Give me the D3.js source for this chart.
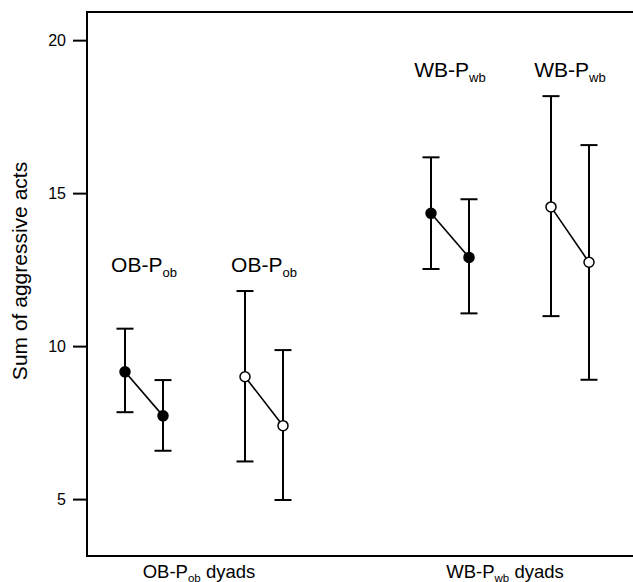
<!DOCTYPE html>
<html>
<head>
<meta charset="utf-8">
<script src="https://cdn.jsdelivr.net/npm/d3@7"></script>
<style>
  body { margin: 0; background: #fff; }
  text { font-family: "Liberation Sans", Arial, sans-serif; fill: #000; }
</style>
</head>
<body>
<svg id="chart" width="633" height="582"></svg>
<script>
// groups on the x axis and the pair labels drawn above each series
const groups = ["OB", "WB"]
const groupLabels = [["OB-P", "ob", " dyads"], ["WB-P", "wb", " dyads"]]
const seriesNames = ["filled", "open"]
const times = [1, 2]

// means and error bar ends, per group, per series, per time point
const means = {
  OB: { filled: [9.16, 7.72], open: [9.00, 7.40] },
  WB: { filled: [14.34, 12.90], open: [14.55, 12.74] }
}
const upper = {
  OB: { filled: [10.57, 8.89], open: [11.80, 9.87] },
  WB: { filled: [16.17, 14.80], open: [18.17, 16.57] }
}
const lower = {
  OB: { filled: [7.84, 6.58], open: [6.23, 4.97] },
  WB: { filled: [12.52, 11.07], open: [10.98, 8.90] }
}
const yTicks = [5, 10, 15, 20]

const svg = d3.select("#chart")
const mLeft = 87, mRight = 633, mTop = 12, mBottom = 556

const y = d3.scaleLinear().domain([3.14, 20.92]).range([mBottom, mTop])
const gx = d3.scalePoint().domain(groups).range([204, 510])
const sx = d3.scalePoint().domain(seriesNames).range([-60, 60])
const tx = d3.scalePoint().domain(times).range([-19, 19])

// frame: left axis, top and bottom lines (no right line)
svg.append("line").attr("x1", mLeft).attr("x2", mLeft).attr("y1", mTop - 1).attr("y2", mBottom + 1)
  .attr("stroke", "#000").attr("stroke-width", 2)
svg.append("line").attr("x1", mLeft).attr("x2", mRight).attr("y1", mTop).attr("y2", mTop)
  .attr("stroke", "#000").attr("stroke-width", 2)
svg.append("line").attr("x1", mLeft).attr("x2", mRight).attr("y1", mBottom).attr("y2", mBottom)
  .attr("stroke", "#000").attr("stroke-width", 2)

const yAxis = svg.append("g").attr("transform", `translate(${mLeft},0)`)
  .call(d3.axisLeft(y).tickValues(yTicks).tickSize(14).tickPadding(7).tickFormat(d3.format("d")))
yAxis.select(".domain").remove()
yAxis.selectAll(".tick line").attr("stroke", "#000").attr("stroke-width", 2)
yAxis.selectAll(".tick text").style("font-size", "16px").attr("fill", "#000")

svg.append("text")
  .attr("transform", `translate(27,${(mTop + mBottom) / 2 - 13}) rotate(-90)`)
  .attr("text-anchor", "middle")
  .style("font-size", "21px")
  .text("Sum of aggressive acts")

// category labels under the axis
groups.forEach((g, i) => {
  const t = svg.append("text").attr("x", gx(g) - 5).attr("y", 578)
    .attr("text-anchor", "middle").style("font-size", "18.5px")
  t.append("tspan").text(groupLabels[i][0])
  t.append("tspan").attr("dy", 4).style("font-size", "11.5px").text(groupLabels[i][1])
  t.append("tspan").attr("dy", -4).text(groupLabels[i][2])
})

groups.forEach((g, gi) => {
  seriesNames.forEach(s => {
    const xs = times.map(t => gx(g) + sx(s) + tx(t))
    const m = means[g][s], hi = upper[g][s], lo = lower[g][s]
    const gmax = d3.max(seriesNames.flatMap(k => upper[g][k]))

    // pair label
    const lab = svg.append("text").attr("x", d3.mean(xs)).attr("y", y(gmax) - 19)
      .attr("text-anchor", "middle").style("font-size", "21px")
    lab.append("tspan").text(groupLabels[gi][0])
    lab.append("tspan").attr("dy", 5).style("font-size", "13px").text(groupLabels[gi][1])

    // error bars
    times.forEach((t, i) => {
      svg.append("line").attr("x1", xs[i]).attr("x2", xs[i]).attr("y1", y(hi[i])).attr("y2", y(lo[i]))
        .attr("stroke", "#000").attr("stroke-width", 2)
      ;[hi[i], lo[i]].forEach(v => {
        svg.append("line").attr("x1", xs[i] - 8.5).attr("x2", xs[i] + 8.5).attr("y1", y(v)).attr("y2", y(v))
          .attr("stroke", "#000").attr("stroke-width", 2)
      })
    })

    // connecting line
    svg.append("path")
      .attr("d", d3.line()(times.map((t, i) => [xs[i], y(m[i])])))
      .attr("stroke", "#000").attr("stroke-width", 1.6).attr("fill", "none")

    svg.selectAll(null).data(m).enter().append("circle")
      .attr("cx", (d, i) => xs[i]).attr("cy", d => y(d)).attr("r", 5)
      .attr("fill", s === "filled" ? "#000" : "#fff")
      .attr("stroke", "#000").attr("stroke-width", 1.5)
  })
})
</script>
</body>
</html>
